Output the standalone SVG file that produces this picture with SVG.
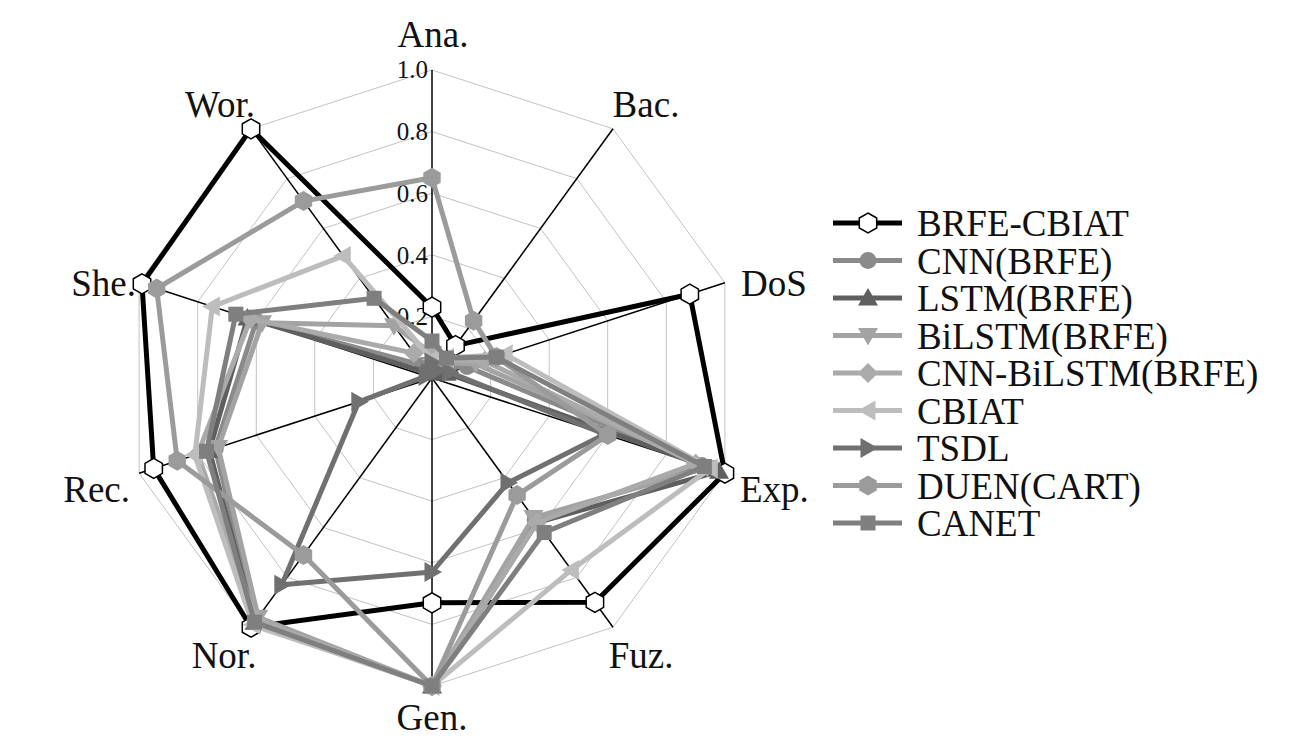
<svg xmlns="http://www.w3.org/2000/svg" width="1300" height="750" viewBox="0 0 1300 750">
<style>
.bg{fill:#ffffff}
.grid{fill:none;stroke:#c2c2c2;stroke-width:1}
.axis{stroke:#000;stroke-width:1.5}
.lbl{font-family:"Liberation Serif","Times New Roman",serif;font-size:37px;fill:#111}
.tick{font-family:"Liberation Serif","Times New Roman",serif;font-size:25px;fill:#111;text-anchor:end}
.s{fill:none;stroke-width:5;stroke-linejoin:round;stroke-linecap:round}
.leg{fill:none;stroke-width:5}
</style>
<defs>
<marker id="mHexW" viewBox="-12 -12 24 24" markerWidth="24" markerHeight="24" refX="0" refY="0" markerUnits="userSpaceOnUse" orient="0" overflow="visible"><polygon points="0,-10 8.7,-5 8.7,5 0,10 -8.7,5 -8.7,-5" fill="#fff" stroke="#000" stroke-width="1.5"/></marker>
<marker id="mCircle" viewBox="-12 -12 24 24" markerWidth="24" markerHeight="24" refX="0" refY="0" markerUnits="userSpaceOnUse" orient="0" overflow="visible"><circle r="8.5" fill="#8a8a8a"/></marker>
<marker id="mTriUp" viewBox="-12 -12 24 24" markerWidth="24" markerHeight="24" refX="0" refY="0" markerUnits="userSpaceOnUse" orient="0" overflow="visible"><polygon points="0,-10 10,7.5 -10,7.5" fill="#5f5f5f"/></marker>
<marker id="mTriDown" viewBox="-12 -12 24 24" markerWidth="24" markerHeight="24" refX="0" refY="0" markerUnits="userSpaceOnUse" orient="0" overflow="visible"><polygon points="0,10 10,-7.5 -10,-7.5" fill="#a3a3a3"/></marker>
<marker id="mDiamond" viewBox="-12 -12 24 24" markerWidth="24" markerHeight="24" refX="0" refY="0" markerUnits="userSpaceOnUse" orient="0" overflow="visible"><polygon points="0,-10 10,0 0,10 -10,0" fill="#aaaaaa"/></marker>
<marker id="mTriLeft" viewBox="-12 -12 24 24" markerWidth="24" markerHeight="24" refX="0" refY="0" markerUnits="userSpaceOnUse" orient="0" overflow="visible"><polygon points="-10,0 7.5,-10 7.5,10" fill="#bdbdbd"/></marker>
<marker id="mTriRight" viewBox="-12 -12 24 24" markerWidth="24" markerHeight="24" refX="0" refY="0" markerUnits="userSpaceOnUse" orient="0" overflow="visible"><polygon points="10,0 -7.5,-10 -7.5,10" fill="#707070"/></marker>
<marker id="mHexG" viewBox="-12 -12 24 24" markerWidth="24" markerHeight="24" refX="0" refY="0" markerUnits="userSpaceOnUse" orient="0" overflow="visible"><polygon points="0,-10 8.7,-5 8.7,5 0,10 -8.7,5 -8.7,-5" fill="#9b9b9b"/></marker>
<marker id="mSquare" viewBox="-12 -12 24 24" markerWidth="24" markerHeight="24" refX="0" refY="0" markerUnits="userSpaceOnUse" orient="0" overflow="visible"><rect x="-7.5" y="-7.5" width="15" height="15" fill="#7f7f7f"/></marker>
</defs>
<rect class="bg" x="0" y="0" width="1300" height="750"/>

<g id="grid">
<polygon class="grid" points="432,70 613,128.8 724.9,282.8 724.9,473.2 613,627.2 432,686 251,627.2 139.1,473.2 139.1,282.8 251,128.8"/>
<polygon class="grid" points="432,131.6 576.8,178.6 666.3,301.8 666.3,454.2 576.8,577.4 432,624.4 287.2,577.4 197.7,454.2 197.7,301.8 287.2,178.6"/>
<polygon class="grid" points="432,193.2 540.6,228.5 607.7,320.9 607.7,435.1 540.6,527.5 432,562.8 323.4,527.5 256.3,435.1 256.3,320.9 323.4,228.5"/>
<polygon class="grid" points="432,254.8 504.4,278.3 549.2,339.9 549.2,416.1 504.4,477.7 432,501.2 359.6,477.7 314.8,416.1 314.8,339.9 359.6,278.3"/>
<polygon class="grid" points="432,316.4 468.2,328.2 490.6,359 490.6,397 468.2,427.8 432,439.6 395.8,427.8 373.4,397 373.4,359 395.8,328.2"/>
</g>
<g id="axes">
<line class="axis" x1="432" y1="378" x2="432" y2="70"/>
<line class="axis" x1="432" y1="378" x2="613" y2="128.8"/>
<line class="axis" x1="432" y1="378" x2="724.9" y2="282.8"/>
<line class="axis" x1="432" y1="378" x2="724.9" y2="473.2"/>
<line class="axis" x1="432" y1="378" x2="613" y2="627.2"/>
<line class="axis" x1="432" y1="378" x2="432" y2="686"/>
<line class="axis" x1="432" y1="378" x2="251" y2="627.2"/>
<line class="axis" x1="432" y1="378" x2="139.1" y2="473.2"/>
<line class="axis" x1="432" y1="378" x2="139.1" y2="282.8"/>
<line class="axis" x1="432" y1="378" x2="251" y2="128.8"/>
</g>
<g id="ticks">
<text class="tick" x="428" y="78">1.0</text>
<text class="tick" x="428" y="140">0.8</text>
<text class="tick" x="428" y="202">0.6</text>
<text class="tick" x="428" y="264">0.4</text>
<text class="tick" x="428" y="325">0.2</text>
</g>
<g id="axis-labels">
<text class="lbl" x="433" y="47" text-anchor="middle">Ana.</text>
<text class="lbl" x="646" y="117" text-anchor="middle">Bac.</text>
<text class="lbl" x="741" y="296">DoS</text>
<text class="lbl" x="740" y="502">Exp.</text>
<text class="lbl" x="641" y="668" text-anchor="middle">Fuz.</text>
<text class="lbl" x="432" y="730" text-anchor="middle">Gen.</text>
<text class="lbl" x="224" y="668" text-anchor="middle">Nor.</text>
<text class="lbl" x="130" y="502" text-anchor="end">Rec.</text>
<text class="lbl" x="136" y="296" text-anchor="end">She.</text>
<text class="lbl" x="220" y="117" text-anchor="middle">Wor.</text>
</g>

<g id="series">
<polygon id="s-brfe-cbiat" class="s" stroke="#000" stroke-width="4.5" marker-start="url(#mHexW)" marker-mid="url(#mHexW)" points="432,307.2 455.5,345.6 689.8,294.2 724.9,473.2 594.9,602.3 432,602.8 251,627.2 153.7,468.4 142,283.8 251,128.8"/>
<polygon id="s-cnn" class="s" stroke="#8a8a8a" marker-start="url(#mCircle)" marker-mid="url(#mCircle)" points="432,362.6 439.2,368 467.1,366.6 701.5,465.6 535.2,520 432,686 256.4,619.7 215.3,448.4 256.3,320.9 422.9,365.5"/>
<polygon id="s-lstm" class="s" stroke="#5f5f5f" marker-start="url(#mTriUp)" marker-mid="url(#mTriUp)" points="432,371.8 437.4,370.5 446.6,373.2 719,471.3 537,522.5 432,686 254.6,622.2 209.4,450.4 247.5,318 428.4,373"/>
<polygon id="s-bilstm" class="s" stroke="#a3a3a3" marker-start="url(#mTriDown)" marker-mid="url(#mTriDown)" points="432,353.4 442.9,363 475.9,363.7 707.3,467.5 533.4,517.6 432,686 258.2,617.2 218.2,447.5 262.1,322.8 394,325.7"/>
<polygon id="s-cnn-bilstm" class="s" stroke="#aaaaaa" marker-start="url(#mDiamond)" marker-mid="url(#mDiamond)" points="432,347.2 444.7,360.6 484.7,360.9 695.6,463.7 537,522.5 432,686 256.4,619.7 197.7,454.2 250.4,319 413.9,353.1"/>
<polygon id="s-cbiat" class="s" stroke="#bdbdbd" marker-start="url(#mTriLeft)" marker-mid="url(#mTriLeft)" points="432,359.5 446.5,358.1 505.2,354.2 710.3,468.4 571.4,569.9 432,686 252.8,624.7 194.8,455.1 212.3,306.6 343.3,255.9"/>
<polygon id="s-tsdl" class="s" stroke="#707070" marker-start="url(#mTriRight)" marker-mid="url(#mTriRight)" points="432,362.6 437.4,370.5 449.6,372.3 604.8,434.2 508,482.7 432,572 281.8,584.8 358.8,401.8 426.1,376.1 428.4,373"/>
<polygon id="s-duen" class="s" stroke="#9b9b9b" marker-start="url(#mHexG)" marker-mid="url(#mHexG)" points="432,177.8 473.6,320.7 496.4,357.1 607.7,435.1 517.1,495.1 432,686 303.5,554.9 177.2,460.8 156.7,288.5 303.5,201.1"/>
<polygon id="s-canet" class="s" stroke="#7f7f7f" marker-start="url(#mSquare)" marker-mid="url(#mSquare)" points="432,341 446.5,358.1 496.4,357.1 704.4,466.5 544.2,532.5 432,686 254.6,622.2 206.5,451.3 235.8,314.2 374.1,298.3"/>
</g>

<g id="legend">
<g id="leg-brfe-cbiat"><polyline class="leg" stroke="#000" points="833,223 868,223 902,223" marker-mid="url(#mHexW)"/><text class="lbl" x="917" y="236">BRFE-CBIAT</text></g>
<g id="leg-cnn"><polyline class="leg" stroke="#8a8a8a" points="833,260.5 868,260.5 902,260.5" marker-mid="url(#mCircle)"/><text class="lbl" x="917" y="273.5">CNN(BRFE)</text></g>
<g id="leg-lstm"><polyline class="leg" stroke="#5f5f5f" points="833,298 868,298 902,298" marker-mid="url(#mTriUp)"/><text class="lbl" x="917" y="311">LSTM(BRFE)</text></g>
<g id="leg-bilstm"><polyline class="leg" stroke="#a3a3a3" points="833,335.5 868,335.5 902,335.5" marker-mid="url(#mTriDown)"/><text class="lbl" x="917" y="348.5">BiLSTM(BRFE)</text></g>
<g id="leg-cnn-bilstm"><polyline class="leg" stroke="#aaaaaa" points="833,373 868,373 902,373" marker-mid="url(#mDiamond)"/><text class="lbl" x="917" y="386">CNN-BiLSTM(BRFE)</text></g>
<g id="leg-cbiat"><polyline class="leg" stroke="#bdbdbd" points="833,410.5 868,410.5 902,410.5" marker-mid="url(#mTriLeft)"/><text class="lbl" x="917" y="423.5">CBIAT</text></g>
<g id="leg-tsdl"><polyline class="leg" stroke="#707070" points="833,448 868,448 902,448" marker-mid="url(#mTriRight)"/><text class="lbl" x="917" y="461">TSDL</text></g>
<g id="leg-duen"><polyline class="leg" stroke="#9b9b9b" points="833,485.5 868,485.5 902,485.5" marker-mid="url(#mHexG)"/><text class="lbl" x="917" y="498.5">DUEN(CART)</text></g>
<g id="leg-canet"><polyline class="leg" stroke="#7f7f7f" points="833,523 868,523 902,523" marker-mid="url(#mSquare)"/><text class="lbl" x="917" y="536">CANET</text></g>
</g>
</svg>
